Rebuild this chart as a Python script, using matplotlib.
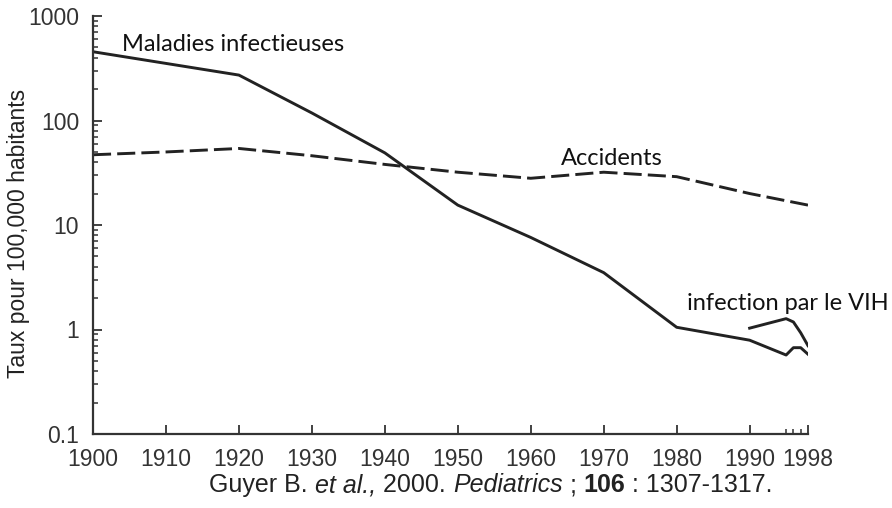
import matplotlib
matplotlib.use('Agg')
import matplotlib.pyplot as plt
from matplotlib.ticker import FixedLocator, LogLocator, NullFormatter, FixedFormatter

# données (taux pour 100 000 habitants)
annees_inf = [1900, 1920, 1930, 1940, 1950, 1960, 1970, 1980, 1990, 1995, 1996, 1997, 1998]
maladies_inf = [455, 272, 118, 49, 15.5, 7.6, 3.5, 1.05, 0.79, 0.57, 0.67, 0.67, 0.58]

annees_acc = [1900, 1910, 1920, 1930, 1940, 1950, 1960, 1970, 1980, 1990, 1998]
accidents = [47, 50, 54, 46, 38, 32, 28, 32, 29, 20, 15.5]

annees_vih = [1990, 1995, 1996, 1997, 1998]
vih = [1.03, 1.27, 1.18, 0.93, 0.70]

xticks = [1900, 1910, 1920, 1930, 1940, 1950, 1960, 1970, 1980, 1990, 1998]
xminor = [1995, 1996, 1997]
yticks = [0.1, 1, 10, 100, 1000]
ylabels = ['0.1', '1', '10', '100', '1000']

LINE = '#222222'
ARIAL = ['Liberation Sans', 'DejaVu Sans']
MYRIAD = ['Lato', 'DejaVu Sans']

fig = plt.figure(figsize=(8.92, 5.08), dpi=100)
W, H = 892, 508
ax = fig.add_axes([93 / W, 1 - 434 / H, (808 - 93) / W, (434 - 16) / H])

ax.plot(annees_inf, maladies_inf, color=LINE, lw=2.1, solid_joinstyle='round')
ax.plot(annees_acc, accidents, color=LINE, lw=2.1, dashes=(6.2, 2.1))
ax.plot(annees_vih, vih, color=LINE, lw=2.1, solid_joinstyle='round')

ax.set_yscale('log')
ax.set_xlim(1900, 1998)
ax.set_ylim(0.1, 1000)

for s in ('top', 'right'):
    ax.spines[s].set_visible(False)
for s in ('left', 'bottom'):
    ax.spines[s].set_linewidth(1.6)
    ax.spines[s].set_color('#333333')

ax.xaxis.set_major_locator(FixedLocator(xticks))
ax.xaxis.set_major_formatter(FixedFormatter([str(x) for x in xticks]))
ax.xaxis.set_minor_locator(FixedLocator(xminor))
ax.yaxis.set_major_locator(FixedLocator(yticks))
ax.yaxis.set_major_formatter(FixedFormatter(ylabels))
ax.yaxis.set_minor_locator(LogLocator(base=10, subs=range(2, 10)))
ax.yaxis.set_minor_formatter(NullFormatter())

ax.tick_params(which='major', direction='in', length=6.5, width=1.3,
               color='#333333', labelsize=16.5, pad=10, labelcolor='#333333')
ax.tick_params(which='minor', direction='in', length=3.5, width=1.1, color='#333333')
for lab in ax.get_xticklabels() + ax.get_yticklabels():
    lab.set_family(ARIAL)

ax.set_ylabel('Taux pour 100,000 habitants', family=ARIAL, fontsize=16.5,
              color='#222222')
ax.yaxis.set_label_coords(-0.088, 0.481)

ax.text(1904, 462, 'Maladies infectieuses', family=MYRIAD, fontsize=17, color='#111111')
ax.text(1964.2, 37.5, 'Accidents', family=MYRIAD, fontsize=17, color='#111111')
ax.text(1981.4, 1.54, 'infection par le VIH', family=MYRIAD, fontsize=17, color='#111111')

# légende source, en morceaux (italique / gras), centrée vers x = 491 px
morceaux = [('Guyer B.', 'normal', 'normal'),
            (' et al.,', 'italic', 'normal'),
            (' 2000. ', 'normal', 'normal'),
            ('Pediatrics', 'italic', 'normal'),
            (' ; ', 'normal', 'normal'),
            ('106', 'normal', 'bold'),
            (' : 1307-1317.', 'normal', 'normal')]
renderer = fig.canvas.get_renderer()
textes = []
x = 0
for txt, style, weight in morceaux:
    t = fig.text(x / W, 1 - 492 / H, txt, family=ARIAL, fontsize=18,
                 style=style, weight=weight, color='#222222', va='baseline')
    textes.append((t, x))
    x += t.get_window_extent(renderer).width
debut = 491 - x / 2
for t, x0 in textes:
    t.set_x((debut + x0) / W)

fig.savefig('out.png', dpi=100)
